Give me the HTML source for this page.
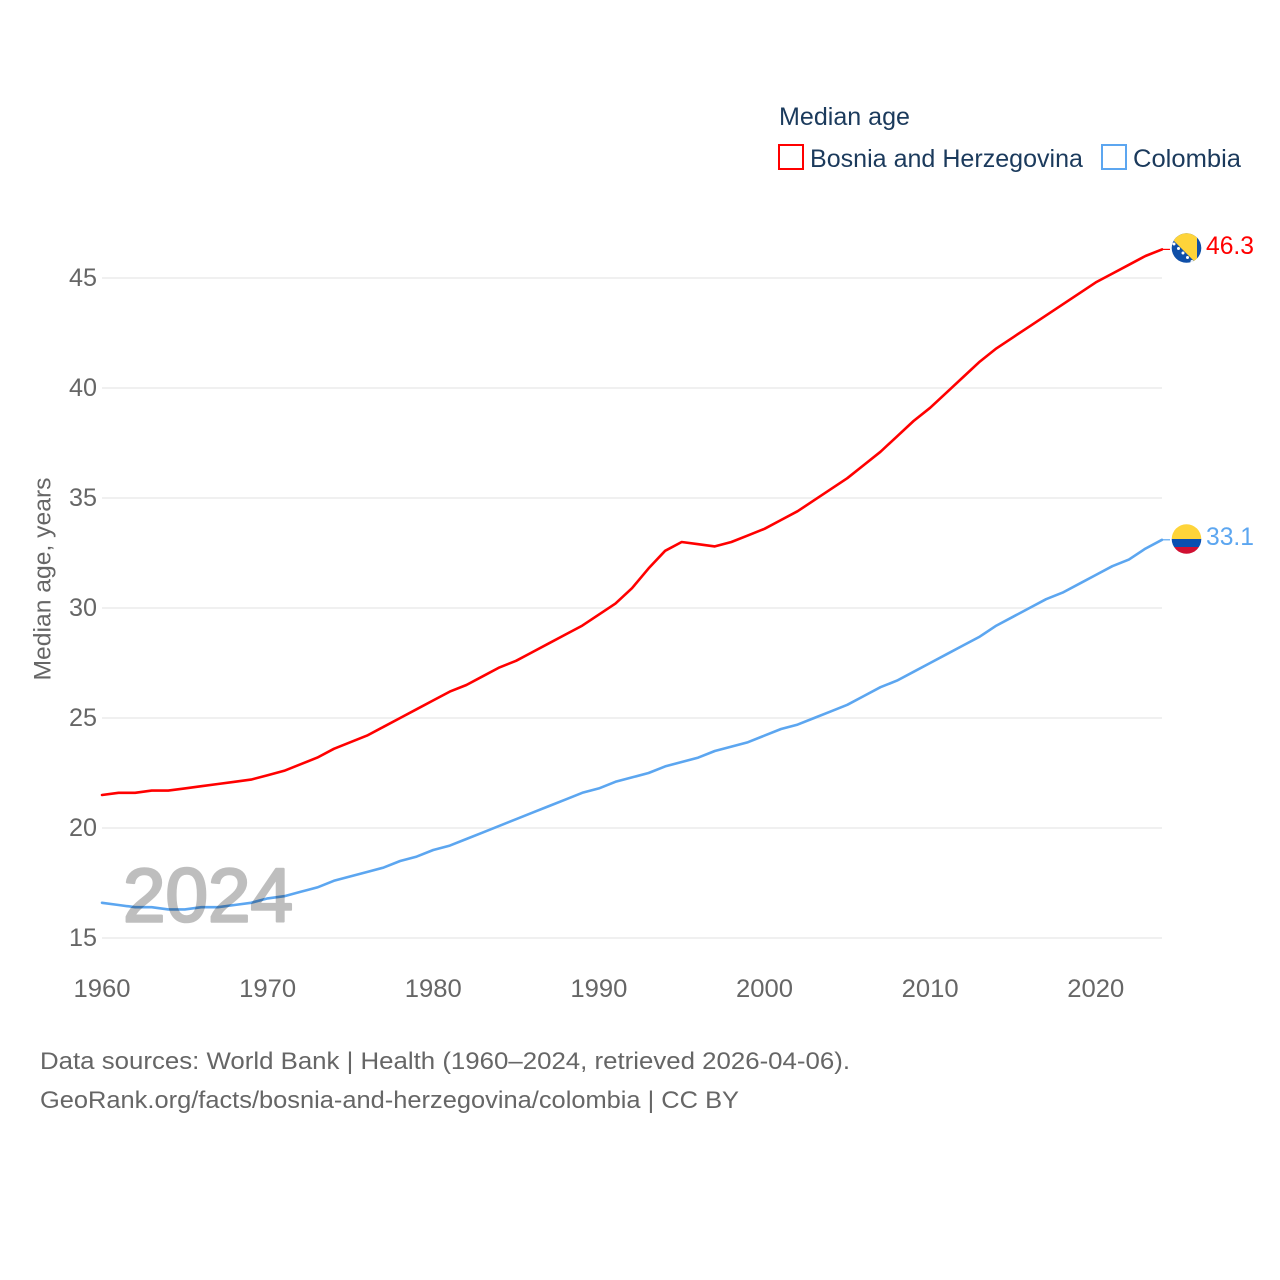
<!DOCTYPE html>
<html lang="en">
<head>
<meta charset="utf-8">
<title>Median age: Bosnia and Herzegovina vs Colombia</title>
<style>
html,body{margin:0;padding:0;background:#fff;}
svg{display:block;font-family:"Liberation Sans",sans-serif;}
</style>
</head>
<body>
<svg id="chart" width="1280" height="1280" viewBox="0 0 1280 1280" xmlns="http://www.w3.org/2000/svg">
  <defs>
    <clipPath id="flag-clip-ba"><circle cx="1186.5" cy="248" r="14.8"/></clipPath>
    <clipPath id="flag-clip-co"><circle cx="1186.5" cy="539" r="14.8"/></clipPath>
  </defs>
  <g id="grid"></g>
  <g id="y-ticks"></g>
  <g id="x-ticks"></g>

  <text x="42" y="579" transform="rotate(-90 42 579)" dy="8.5" text-anchor="middle" font-size="24" fill="#666" textLength="203" lengthAdjust="spacingAndGlyphs">Median age, years</text>

  <g>
    <text x="779" y="125" font-size="25" fill="#1b3a5c" textLength="131" lengthAdjust="spacingAndGlyphs">Median age</text>
    <g>
      <rect x="779" y="145" width="24" height="24" fill="#fff" stroke="#ff0000" stroke-width="2"/>
      <text x="810" y="167" font-size="25" fill="#1b3a5c" textLength="273" lengthAdjust="spacingAndGlyphs">Bosnia and Herzegovina</text>
    </g>
    <g>
      <rect x="1102" y="145" width="24" height="24" fill="#fff" stroke="#5ca6f0" stroke-width="2"/>
      <text x="1133" y="167" font-size="25" fill="#1b3a5c" textLength="108" lengthAdjust="spacingAndGlyphs">Colombia</text>
    </g>
  </g>

  <g id="series"></g>

  <text x="123" y="921.5" font-size="76" fill="#000" stroke="#000" stroke-width="2.6" stroke-linejoin="round" opacity="0.25" textLength="170" lengthAdjust="spacingAndGlyphs">2024</text>

  <g clip-path="url(#flag-clip-ba)">
    <rect x="1171" y="233" width="31" height="31" fill="#0f4fa8"/>
    <polygon points="1166,233 1197,233 1197,264" fill="#fed43a"/>
    <g fill="#fff">
      <circle cx="1174" cy="244" r="1.5"/><circle cx="1178.5" cy="248.5" r="1.5"/><circle cx="1183" cy="253" r="1.5"/>
      <circle cx="1187.5" cy="257.5" r="1.5"/><circle cx="1192" cy="261.5" r="1.5"/>
    </g>
  </g>
  <g clip-path="url(#flag-clip-co)">
    <rect x="1171" y="524" width="31" height="15" fill="#fed43a"/>
    <rect x="1171" y="539" width="31" height="8" fill="#0a4fb0"/>
    <rect x="1171" y="547" width="31" height="8" fill="#d01032"/>
  </g>

  <text x="1206" y="254" font-size="25" fill="#ff0000" textLength="48" lengthAdjust="spacingAndGlyphs">46.3</text>
  <text x="1206" y="545" font-size="25" fill="#5ca6f0" textLength="48" lengthAdjust="spacingAndGlyphs">33.1</text>

  <text x="40" y="1069" font-size="24.5" fill="#666" textLength="810" lengthAdjust="spacingAndGlyphs">Data sources: World Bank | Health (1960–2024, retrieved 2026-04-06).</text>
  <text x="40" y="1108" font-size="24.5" fill="#666" textLength="699" lengthAdjust="spacingAndGlyphs">GeoRank.org/facts/bosnia-and-herzegovina/colombia | CC BY</text>
</svg>
<script>
const firstYear = 1960;
const yTickValues = [15, 20, 25, 30, 35, 40, 45];
const xTickValues = [1960, 1970, 1980, 1990, 2000, 2010, 2020];
const bosniaValues = [21.5,21.6,21.6,21.7,21.7,21.8,21.9,22.0,22.1,22.2,22.4,22.6,22.9,23.2,23.6,23.9,24.2,24.6,25.0,25.4,25.8,26.2,26.5,26.9,27.3,27.6,28.0,28.4,28.8,29.2,29.7,30.2,30.9,31.8,32.6,33.0,32.9,32.8,33.0,33.3,33.6,34.0,34.4,34.9,35.4,35.9,36.5,37.1,37.8,38.5,39.1,39.8,40.5,41.2,41.8,42.3,42.8,43.3,43.8,44.3,44.8,45.2,45.6,46.0,46.3];
const colombiaValues = [16.6,16.5,16.4,16.4,16.3,16.3,16.4,16.4,16.5,16.6,16.8,16.9,17.1,17.3,17.6,17.8,18.0,18.2,18.5,18.7,19.0,19.2,19.5,19.8,20.1,20.4,20.7,21.0,21.3,21.6,21.8,22.1,22.3,22.5,22.8,23.0,23.2,23.5,23.7,23.9,24.2,24.5,24.7,25.0,25.3,25.6,26.0,26.4,26.7,27.1,27.5,27.9,28.3,28.7,29.2,29.6,30.0,30.4,30.7,31.1,31.5,31.9,32.2,32.7,33.1];

const NS = 'http://www.w3.org/2000/svg';
function xScale(year) { return 102 + (year - 1960) * (1162 - 102) / 64; }
function yScale(value) { return 938 - (value - 15) * 22; }
function make(tag, attrs, parent, text) {
  const el = document.createElementNS(NS, tag);
  for (const k in attrs) el.setAttribute(k, attrs[k]);
  if (text !== undefined) el.textContent = text;
  parent.appendChild(el);
  return el;
}
const grid = document.getElementById('grid');
const yTicks = document.getElementById('y-ticks');
const xTicks = document.getElementById('x-ticks');
const seriesGroup = document.getElementById('series');

yTickValues.forEach(function (v) {
  const line = make('line', {x1: 102, x2: 1162, y1: yScale(v), y2: yScale(v), stroke: '#ececec', 'stroke-width': 1.5}, grid);
  
  
  const label = make('text', {x: 97, y: yScale(v) + 8, 'text-anchor': 'end', 'font-size': 25, fill: '#666', textLength: 28, lengthAdjust: 'spacingAndGlyphs'}, yTicks, String(v));
  
  
});
xTickValues.forEach(function (v) {
  const label = make('text', {x: xScale(v), y: 997, 'text-anchor': 'middle', 'font-size': 25, fill: '#666', textLength: 57, lengthAdjust: 'spacingAndGlyphs'}, xTicks, String(v));
  
  
});
function drawSeries(values, color, name) {
  const pts = values.map(function (v, i) { return xScale(firstYear + i).toFixed(2) + ',' + yScale(v).toFixed(2); });
  const line = make('polyline', {points: pts.join(' '), fill: 'none', stroke: color, 'stroke-width': 2.6, 'stroke-linejoin': 'round', 'stroke-linecap': 'round'}, seriesGroup);
  
  
  const endY = yScale(values[values.length - 1]);
  const connector = make('line', {x1: 1162, x2: 1170, y1: endY, y2: endY, stroke: color, 'stroke-width': 1.2}, seriesGroup);
  
  
}
drawSeries(bosniaValues, '#ff0000', 'bosnia');
drawSeries(colombiaValues, '#5ca6f0', 'colombia');
</script>
</body>
</html>
